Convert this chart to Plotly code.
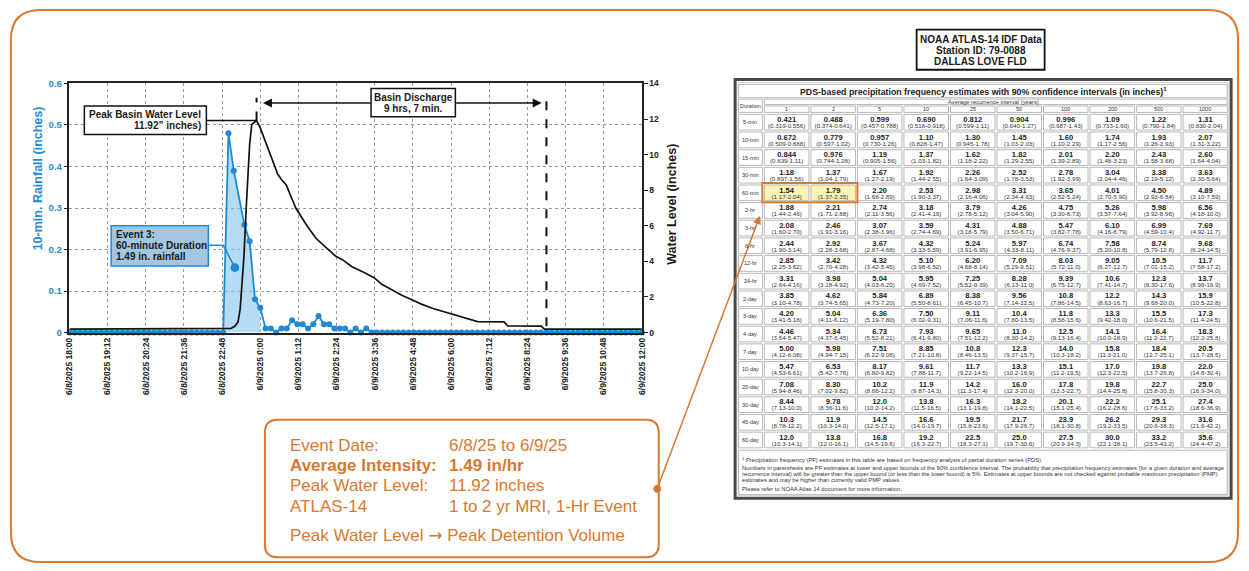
import pandas as pd
import plotly.graph_objects as go

W, H = 1249, 571
FONT = "Arial, 'Liberation Sans', sans-serif"
BLUE = "#1e8ad6"
ORANGE = "#d9782f"
INK = "#1a1a1a"
GRID = "#9a9a9a"

# ---------------- rainfall: 10-minute totals (inches) ----------------
RAIN_START = "2025-06-08 18:00"
RAIN_END = "2025-06-09 12:00"
RAIN_IN = [
    0, 0, 0, 0, 0, 0, 0, 0, 0, 0,
    0, 0, 0, 0, 0, 0, 0, 0, 0, 0,
    0, 0, 0, 0, 0, 0, 0, 0, 0, 0,
    0.48, 0.39, None, 0.26, 0.22, 0.08, 0.06, 0.01, 0.01, 0.0,
    0.01, 0.01, 0.03, 0.02, 0.02, 0.01, 0.02, 0.04, 0.02, 0.02,
    0.01, 0.01, 0.01, 0.0, 0.01, 0.0, 0.01, 0, 0, 0,
    0, 0, 0, 0, 0, 0, 0, 0, 0, 0,
    0, 0, 0, 0, 0, 0, 0, 0, 0, 0,
    0, 0, 0, 0, 0, 0, 0, 0, 0, 0,
    0, 0, 0, 0, 0, 0, 0, 0, 0, 0,
    0, 0, 0, 0, 0, 0, 0, 0, 0,
]
rain_t = pd.date_range(RAIN_START, RAIN_END, freq="10min")

EVENT_START = "2025-06-08 22:50"
EVENT_END = "2025-06-09 00:00"

# ---------------- basin water level (inches) ----------------
WL_TIME = [
    "2025-06-08 18:00", "2025-06-08 22:50", "2025-06-08 23:05", "2025-06-08 23:12",
    "2025-06-08 23:18", "2025-06-08 23:22", "2025-06-08 23:25", "2025-06-08 23:29",
    "2025-06-08 23:34", "2025-06-08 23:40", "2025-06-08 23:44", "2025-06-08 23:53",
    "2025-06-09 00:00", "2025-06-09 00:11", "2025-06-09 00:22", "2025-06-09 00:33",
    "2025-06-09 00:40", "2025-06-09 00:49", "2025-06-09 01:07", "2025-06-09 01:26",
    "2025-06-09 01:45", "2025-06-09 02:03", "2025-06-09 02:22", "2025-06-09 02:35",
    "2025-06-09 02:53", "2025-06-09 03:14", "2025-06-09 03:34", "2025-06-09 03:50",
    "2025-06-09 04:08", "2025-06-09 04:27", "2025-06-09 04:46", "2025-06-09 05:04",
    "2025-06-09 05:26", "2025-06-09 05:54", "2025-06-09 06:22", "2025-06-09 06:50",
    "2025-06-09 07:40", "2025-06-09 07:47", "2025-06-09 08:50", "2025-06-09 08:56",
    "2025-06-09 12:00",
]
WL_IN = [
    0.2, 0.2, 0.24, 0.35,
    0.6, 1.3, 2.4, 4.2,
    7.3, 10.6, 11.7, 11.92,
    11.5, 10.6, 9.7, 8.9,
    8.6, 8.3, 7.0, 6.1,
    5.3, 4.8, 4.3, 4.1,
    3.7, 3.4, 3.1, 2.7,
    2.4, 2.1, 1.85, 1.6,
    1.35, 1.1, 0.85, 0.62,
    0.6, 0.37, 0.36, 0.2,
    0.2,
]
PEAK_TIME = "2025-06-08 23:53"
PEAK_LEVEL = 11.92
DRAIN_END = "2025-06-09 09:00"

TICK_TIMES = [
    "2025-06-08 18:00", "2025-06-08 19:12", "2025-06-08 20:24", "2025-06-08 21:36",
    "2025-06-08 22:48", "2025-06-09 00:00", "2025-06-09 01:12", "2025-06-09 02:24",
    "2025-06-09 03:36", "2025-06-09 04:48", "2025-06-09 06:00", "2025-06-09 07:12",
    "2025-06-09 08:24", "2025-06-09 09:36", "2025-06-09 10:48", "2025-06-09 12:00",
]
TICK_LABELS = [
    "6/8/2025 18:00", "6/8/2025 19:12", "6/8/2025 20:24", "6/8/2025 21:36",
    "6/8/2025 22:48", "6/9/2025 0:00", "6/9/2025 1:12", "6/9/2025 2:24",
    "6/9/2025 3:36", "6/9/2025 4:48", "6/9/2025 6:00", "6/9/2025 7:12",
    "6/9/2025 8:24", "6/9/2025 9:36", "6/9/2025 10:48", "6/9/2025 12:00",
]

# ---------------- NOAA Atlas-14 PDS table ----------------
DURATIONS = ["5-min", "10-min", "15-min", "30-min", "60-min", "2-hr", "3-hr", "6-hr",
             "12-hr", "24-hr", "2-day", "3-day", "4-day", "7-day", "10-day", "20-day",
             "30-day", "45-day", "60-day"]
ARI_YEARS = ["1", "2", "5", "10", "25", "50", "100", "200", "500", "1000"]
PF_EST = [
    ["0.421", "0.488", "0.599", "0.690", "0.812", "0.904", "0.996", "1.09", "1.22", "1.31"],
    ["0.672", "0.779", "0.957", "1.10", "1.30", "1.45", "1.60", "1.74", "1.93", "2.07"],
    ["0.844", "0.976", "1.19", "1.37", "1.62", "1.82", "2.01", "2.20", "2.43", "2.60"],
    ["1.18", "1.37", "1.67", "1.92", "2.26", "2.52", "2.78", "3.04", "3.38", "3.63"],
    ["1.54", "1.79", "2.20", "2.53", "2.98", "3.31", "3.65", "4.01", "4.50", "4.89"],
    ["1.88", "2.21", "2.74", "3.18", "3.79", "4.26", "4.75", "5.26", "5.98", "6.56"],
    ["2.08", "2.46", "3.07", "3.59", "4.31", "4.88", "5.47", "6.10", "6.99", "7.69"],
    ["2.44", "2.92", "3.67", "4.32", "5.24", "5.97", "6.74", "7.58", "8.74", "9.68"],
    ["2.85", "3.42", "4.32", "5.10", "6.20", "7.09", "8.03", "9.05", "10.5", "11.7"],
    ["3.31", "3.98", "5.04", "5.95", "7.25", "8.28", "9.39", "10.6", "12.3", "13.7"],
    ["3.85", "4.62", "5.84", "6.89", "8.38", "9.56", "10.8", "12.2", "14.3", "15.9"],
    ["4.20", "5.04", "6.36", "7.50", "9.11", "10.4", "11.8", "13.3", "15.5", "17.3"],
    ["4.46", "5.34", "6.73", "7.93", "9.65", "11.0", "12.5", "14.1", "16.4", "18.3"],
    ["5.00", "5.98", "7.51", "8.85", "10.8", "12.3", "14.0", "15.8", "18.4", "20.5"],
    ["5.47", "6.53", "8.17", "9.61", "11.7", "13.3", "15.1", "17.0", "19.8", "22.0"],
    ["7.08", "8.30", "10.2", "11.9", "14.2", "16.0", "17.8", "19.8", "22.7", "25.0"],
    ["8.44", "9.78", "12.0", "13.8", "16.3", "18.2", "20.1", "22.2", "25.1", "27.4"],
    ["10.3", "11.9", "14.5", "16.6", "19.5", "21.7", "23.9", "26.2", "29.3", "31.6"],
    ["12.0", "13.8", "16.8", "19.2", "22.5", "25.0", "27.5", "30.0", "33.2", "35.6"],
]
PF_CI = [
    ["0.319-0.556", "0.374-0.641", "0.457-0.788", "0.518-0.918", "0.599-1.11", "0.640-1.27", "0.687-1.43", "0.733-1.60", "0.790-1.84", "0.830-2.04"],
    ["0.509-0.888", "0.597-1.02", "0.730-1.26", "0.828-1.47", "0.945-1.78", "1.03-2.03", "1.10-2.29", "1.17-2.56", "1.26-2.93", "1.31-3.22"],
    ["0.639-1.11", "0.744-1.28", "0.905-1.56", "1.03-1.82", "1.18-2.22", "1.29-2.55", "1.39-2.89", "1.48-3.23", "1.58-3.68", "1.64-4.04"],
    ["0.897-1.56", "1.04-1.79", "1.27-2.19", "1.44-2.55", "1.64-3.09", "1.78-3.53", "1.92-3.99", "2.04-4.46", "2.19-5.12", "2.30-5.64"],
    ["1.17-2.04", "1.37-2.35", "1.68-2.89", "1.90-3.37", "2.16-4.06", "2.34-4.63", "2.52-5.24", "2.70-5.90", "2.93-6.84", "3.10-7.59"],
    ["1.44-2.46", "1.71-2.88", "2.11-3.56", "2.41-4.19", "2.78-5.12", "3.04-5.90", "3.30-6.73", "3.57-7.64", "3.92-8.96", "4.18-10.0"],
    ["1.60-2.70", "1.91-3.16", "2.38-3.96", "2.74-4.69", "3.18-5.79", "3.50-6.71", "3.82-7.78", "4.16-8.79", "4.59-10.4", "4.92-11.7"],
    ["1.90-3.14", "2.28-3.68", "2.87-4.68", "3.33-5.59", "3.91-6.95", "4.33-8.11", "4.76-9.37", "5.20-10.8", "5.79-12.8", "6.24-14.5"],
    ["2.25-3.62", "2.70-4.28", "3.42-5.45", "3.98-6.52", "4.68-8.14", "5.29-9.51", "5.72-11.0", "6.27-12.7", "7.01-15.2", "7.58-17.2"],
    ["2.64-4.16", "3.18-4.92", "4.03-6.20", "4.69-7.52", "5.52-9.39", "6.13-11.0", "6.75-12.7", "7.41-14.7", "8.30-17.6", "8.99-19.9"],
    ["3.10-4.78", "3.74-5.65", "4.73-7.20", "5.50-8.61", "6.45-10.7", "7.14-12.5", "7.86-14.5", "8.63-16.7", "9.68-20.0", "10.5-22.8"],
    ["3.41-5.18", "4.11-6.12", "5.19-7.80", "6.02-9.31", "7.06-11.6", "7.80-13.5", "8.58-15.6", "9.42-18.0", "10.6-21.5", "11.4-24.5"],
    ["3.64-5.47", "4.37-6.45", "5.52-8.21", "6.41-9.80", "7.51-12.2", "8.30-14.2", "9.13-16.4", "10.0-18.9", "11.2-22.7", "12.2-25.8"],
    ["4.12-6.08", "4.94-7.15", "6.22-9.08", "7.21-10.8", "8.46-13.5", "9.37-15.7", "10.3-18.2", "11.3-21.0", "12.7-25.1", "13.7-28.5"],
    ["4.53-6.61", "5.42-7.76", "6.80-9.82", "7.88-11.7", "9.22-14.5", "10.2-16.9", "11.2-19.5", "12.3-22.5", "13.7-26.8", "14.8-30.4"],
    ["5.94-8.46", "7.02-9.82", "8.66-12.2", "9.87-14.3", "11.3-17.4", "12.3-20.0", "13.3-22.7", "14.4-25.8", "15.8-30.3", "16.9-34.0"],
    ["7.13-10.0", "8.36-11.6", "10.2-14.2", "11.5-16.5", "13.1-19.8", "14.1-22.5", "15.1-25.4", "16.2-28.6", "17.6-33.2", "18.6-36.9"],
    ["8.78-12.2", "10.3-14.0", "12.5-17.1", "14.0-19.7", "15.8-23.6", "17.9-26.7", "18.1-30.8", "19.2-33.5", "20.6-38.3", "21.6-42.2"],
    ["10.3-14.1", "12.0-16.1", "14.5-19.6", "16.3-22.7", "18.3-27.1", "19.7-30.6", "20.9-34.3", "22.1-38.1", "23.5-43.2", "24.4-47.2"],
]
HIGHLIGHT_DURATION = "60-min"
HIGHLIGHT_YEARS = ["1", "2"]
FOOTNOTES = [
    "<sup>1</sup> Precipitation frequency (PF) estimates in this table are based on frequency analysis of partial duration series (PDS).",
    "Numbers in parenthesis are PF estimates at lower and upper bounds of the 90% confidence interval. The probability that precipitation frequency estimates (for a given duration and average",
    "recurrence interval) will be greater than the upper bound (or less than the lower bound) is 5%. Estimates at upper bounds are not checked against probable maximum precipitation (PMP)",
    "estimates and may be higher than currently valid PMP values.",
    "Please refer to NOAA Atlas 14 document for more information.",
]

# ---------------- derived values ----------------
event_pts = [(t, v) for t, v in zip(rain_t, RAIN_IN)
             if v is not None and pd.Timestamp(EVENT_START) <= t <= pd.Timestamp(EVENT_END)]
event_total = sum(v for _, v in event_pts)

# ---------------- page layout (pixels) ----------------
PL, PR, PT, PB = 65, 642, 79, 333          # chart plot area
TB_X0, TB_X1, TB_Y0, TB_Y1 = 736, 1236, 75, 502
DUR_X0, DUR_X1 = 739.5, 763.5
COL_X0, COL_W = 765.0, 46.9
ROW_Y0, ROW_H = 110.0, 18.0


def b(s):
    return f"<b>{s}</b>"


fig = go.Figure()

# event rainfall area
fig.add_trace(go.Scatter(
    x=[t for t, _ in event_pts], y=[v for _, v in event_pts],
    mode="lines", line=dict(width=0), fill="tozeroy",
    fillcolor="rgba(120,190,236,0.55)", hoverinfo="skip"))

# 10-minute rainfall
fig.add_trace(go.Scatter(
    x=rain_t, y=RAIN_IN, mode="lines+markers", connectgaps=True,
    line=dict(color=BLUE, width=1.8), marker=dict(color=BLUE, size=6),
    cliponaxis=False, hoverinfo="x+y"))

# basin water level
fig.add_trace(go.Scatter(
    x=pd.to_datetime(WL_TIME), y=WL_IN, yaxis="y2", mode="lines",
    line=dict(color="#111111", width=1.7), hoverinfo="x+y"))

shapes = []
annos = []


def note(x, y, text, size, color=INK, xanchor="center", angle=0):
    annos.append(dict(x=x, y=y, xref="x3", yref="y3", text=text, showarrow=False,
                      font=dict(family=FONT, size=size, color=color),
                      xanchor=xanchor, yanchor="middle", textangle=angle))


def rect(x0, y0, x1, y1, line="#000", width=1, fill="rgba(0,0,0,0)", layer="above"):
    shapes.append(dict(type="rect", xref="x3", yref="y3", x0=x0, y0=y0, x1=x1, y1=y1,
                       line=dict(color=line, width=width), fillcolor=fill, layer=layer))


def rounded(x0, y0, x1, y1, r, color, width):
    p = (f"M {x0 + r},{y0} L {x1 - r},{y0} Q {x1},{y0} {x1},{y0 + r} "
         f"L {x1},{y1 - r} Q {x1},{y1} {x1 - r},{y1} L {x0 + r},{y1} "
         f"Q {x0},{y1} {x0},{y1 - r} L {x0},{y0 + r} Q {x0},{y0} {x0 + r},{y0} Z")
    shapes.append(dict(type="path", xref="x3", yref="y3", path=p,
                       line=dict(color=color, width=width), fillcolor="rgba(0,0,0,0)",
                       layer="below"))


# outer frame
rounded(6, 4, 1243, 567, 30, ORANGE, 2)

# ---------------- chart callouts ----------------
# peak water level box + leader
rect(80, 102, 203, 131, line="#111", width=1.5, fill="white")
note(200, 110.7, b("Peak Basin Water Level"), 10, xanchor="right")
note(200, 122.3, b(f"{PEAK_LEVEL:.2f}\u201d inches)"), 10, xanchor="right")
shapes.append(dict(type="line", xref="x", yref="y2", x0="2025-06-08 22:18", x1=PEAK_TIME,
                   y0=PEAK_LEVEL, y1=PEAK_LEVEL, line=dict(color="#111", width=1.5)))

# discharge duration markers
shapes.append(dict(type="line", xref="x", yref="y2", x0=PEAK_TIME, x1=PEAK_TIME,
                   y0=PEAK_LEVEL, y1=13.2, line=dict(color="#111", width=2, dash="dash")))
shapes.append(dict(type="line", xref="x", yref="y2", x0=DRAIN_END, x1=DRAIN_END,
                   y0=0.36, y1=13.2, line=dict(color="#111", width=2, dash="dash")))
rect(369, 84, 454, 113, line="#111", width=1.5, fill="white")
note(411.5, 93.3, b("Basin Discharge"), 10)
note(411.5, 105.0, b("9 hrs, 7 min."), 10)
annos.append(dict(x="2025-06-09 00:05", y=12.9, xref="x", yref="y2", ax=109, ay=0,
                  showarrow=True, arrowhead=2, arrowsize=1.2, arrowwidth=1.5,
                  arrowcolor="#111", text=""))
annos.append(dict(x="2025-06-09 08:51", y=12.9, xref="x", yref="y2", ax=-87, ay=0,
                  showarrow=True, arrowhead=2, arrowsize=1.2, arrowwidth=1.5,
                  arrowcolor="#111", text=""))

# event box + leader
rect(107, 224, 205, 265, line=BLUE, width=1.5, fill="#a2c6e0")
note(110, 233.3, b("Event 3:"), 10, xanchor="left")
note(110, 244.3, b("60-minute Duration"), 10, xanchor="left")
note(110, 255.3, b(f"{event_total:.2f} in. rainfall"), 10, xanchor="left")
shapes.append(dict(type="path", xref="x3", yref="y3", path="M 205,244 L 220,244 L 231.7,266.7",
                   line=dict(color=BLUE, width=1.5)))
shapes.append(dict(type="circle", xref="x3", yref="y3", x0=227.7, x1=235.7, y0=262.7, y1=270.7,
                   line=dict(color=BLUE, width=1), fillcolor=BLUE))

# axis titles
note(33, 176, b("10-min. Rainfall (inches)"), 12.5, color=BLUE, angle=-90)
note(672, 202, b("Water Level (inches)"), 12.5, angle=-90)

# ---------------- summary box ----------------
rounded(262, 422, 659, 562, 13, ORANGE, 2)
INFO = [
    ("Event Date:", "6/8/25 to 6/9/25", False, 448.3),
    ("Average Intensity:", f"{event_total:.2f} in/hr", True, 468.6),
    ("Peak Water Level:", f"{PEAK_LEVEL:.2f} inches", False, 489.2),
    ("ATLAS-14", "1 to 2 yr MRI, 1-Hr Event", False, 510.6),
]
for lab, val, bold, yy in INFO:
    note(285, yy, b(lab) if bold else lab, 17, color=ORANGE, xanchor="left")
    note(446, yy, b(val) if bold else val, 17, color=ORANGE, xanchor="left")
note(285, 539,
     "Peak Water Level <span style=\"font-family:'DejaVu Sans'\">\u2192</span> Peak Detention Volume",
     17, color=ORANGE, xanchor="left")
shapes.append(dict(type="circle", xref="x3", yref="y3", x0=654, x1=661, y0=488.8, y1=495.8,
                   line=dict(color=ORANGE, width=1), fillcolor=ORANGE))
annos.append(dict(x=761, y=214, xref="x3", yref="y3", ax=657.5, ay=492.3, axref="x3", ayref="y3",
                  showarrow=True, arrowhead=2, arrowsize=1.1, arrowwidth=1.5,
                  arrowcolor=ORANGE, text=""))

# ---------------- IDF table ----------------
rect(919, 24, 1048, 65, line="#111", width=1.8, fill="white")
note(983.5, 34.0, b("NOAA ATLAS-14 IDF Data"), 10)
note(983.5, 45.3, b("Station ID: 79-0088"), 10)
note(983.5, 56.7, b("DALLAS LOVE FLD"), 10)

CELL = "#b9b9b9"
rect(TB_X0, TB_Y0, TB_X1, TB_Y1, line="#4a4a4a", width=3, fill="white", layer="below")
rect(TB_X0 + 3, TB_Y0 + 3, TB_X1 - 3, TB_Y1 - 3, line="#d0d0d0", width=1, layer="below")
rect(DUR_X0, 80, TB_X1 - 4, 93.5, line=CELL, layer="below")
note((TB_X0 + TB_X1) / 2, 86.7,
     b("PDS-based precipitation frequency estimates with 90% confidence intervals (in inches)<sup>1</sup>"),
     8.8, color="#222")
rect(DUR_X0, 95, DUR_X1, 108.5, line=CELL, layer="below")
note((DUR_X0 + DUR_X1) / 2, 101.8, "Duration", 5.5, color="#333")
rect(COL_X0 + 0.5, 95, TB_X1 - 4, 100.5, line=CELL, layer="below")
note(996, 97.8, "Average recurrence interval (years)", 5.8, color="#333")

col_cx = [COL_X0 + (j + 0.5) * COL_W - 0.5 for j in range(len(ARI_YEARS))]
for j, yr in enumerate(ARI_YEARS):
    rect(COL_X0 + j * COL_W + 0.5, 102, COL_X0 + (j + 1) * COL_W - 1.5, 108.5, line=CELL, layer="below")
    note(col_cx[j], 105.3, yr, 5.5, color="#333")

hi_row = DURATIONS.index(HIGHLIGHT_DURATION)
hi_cols = [ARI_YEARS.index(y) for y in HIGHLIGHT_YEARS]
vx, vy, vt, cx, cy, ct = [], [], [], [], [], []
for i, dur in enumerate(DURATIONS):
    top = ROW_Y0 + i * ROW_H
    rect(DUR_X0, top + 0.5, DUR_X1, top + ROW_H - 1.5, line=CELL, layer="below")
    note((DUR_X0 + DUR_X1) / 2, top + 8.5, dur, 5.5, color="#333")
    for j in range(len(ARI_YEARS)):
        fill = "#faf3b2" if (i == hi_row and j in hi_cols) else "white"
        rect(COL_X0 + j * COL_W + 0.5, top + 0.5, COL_X0 + (j + 1) * COL_W - 1.5,
             top + ROW_H - 1.5, line=CELL, fill=fill, layer="below")
        vx.append(col_cx[j]); vy.append(top + 6.3); vt.append(PF_EST[i][j])
        cx.append(col_cx[j]); cy.append(top + 12.8); ct.append(f"({PF_CI[i][j]})")

# highlight frame around the matching cells
hx0 = COL_X0 + min(hi_cols) * COL_W - 1.5
hx1 = COL_X0 + (max(hi_cols) + 1) * COL_W + 0.5
hy0 = ROW_Y0 + hi_row * ROW_H - 1.5
shapes.append(dict(type="rect", xref="x3", yref="y3", x0=hx0, x1=hx1, y0=hy0, y1=hy0 + ROW_H + 1.5,
                   line=dict(color=ORANGE, width=2), fillcolor="rgba(0,0,0,0)", layer="above"))

fig.add_trace(go.Scatter(x=vx, y=vy, text=[b(t) for t in vt], mode="text", xaxis="x3", yaxis="y3",
                         textfont=dict(family=FONT, size=7.6, color="#1c1c1c"),
                         cliponaxis=False, hoverinfo="skip"))
fig.add_trace(go.Scatter(x=cx, y=cy, text=ct, mode="text", xaxis="x3", yaxis="y3",
                         textfont=dict(family=FONT, size=6.2, color="#333"),
                         cliponaxis=False, hoverinfo="skip"))

foot_top = ROW_Y0 + len(DURATIONS) * ROW_H + 1
rect(DUR_X0, foot_top, TB_X1 - 4, TB_Y1 - 4, line=CELL, layer="below")
for line_txt, yy in zip(FOOTNOTES, [462.5, 471.0, 477.2, 483.4, 492.5]):
    note(741, yy, line_txt, 5.8, color="#333", xanchor="left")

# ---------------- layout ----------------
fig.update_layout(
    width=W, height=H, autosize=False,
    margin=dict(l=0, r=0, t=0, b=0, pad=0),
    paper_bgcolor="white", plot_bgcolor="rgba(0,0,0,0)",
    showlegend=False,
    font=dict(family=FONT),
    shapes=shapes, annotations=annos,
    xaxis=dict(domain=[PL / W, PR / W], anchor="y", type="date",
               range=[RAIN_START, RAIN_END], tickmode="array",
               tickvals=TICK_TIMES, ticktext=TICK_LABELS, tickangle=-90,
               tickfont=dict(family=FONT, size=8.5, color="#222", weight="bold"),
               showgrid=True, gridcolor=GRID, griddash="dot", gridwidth=1,
               showline=True, linecolor="#222", linewidth=1.5, mirror=True,
               ticks="", zeroline=False, fixedrange=True),
    yaxis=dict(domain=[1 - PB / H, 1 - PT / H], anchor="x", range=[0, 0.6], dtick=0.1,
               tickfont=dict(family=FONT, size=9.5, color=BLUE, weight="bold"),
               showgrid=True, gridcolor=GRID, griddash="dot", gridwidth=1,
               showline=True, linecolor="#222", linewidth=1.5,
               ticks="outside", ticklen=4, tickcolor="#222", zeroline=False, fixedrange=True),
    yaxis2=dict(overlaying="y", side="right", anchor="x", range=[0, 14], dtick=2,
                tickfont=dict(family=FONT, size=8.5, color="#222", weight="bold"),
                showgrid=False, showline=True, linecolor="#222", linewidth=1.5,
                ticks="outside", ticklen=4, tickcolor="#222", zeroline=False, fixedrange=True),
    xaxis3=dict(domain=[0, 1], anchor="y3", range=[0, W], visible=False, fixedrange=True),
    yaxis3=dict(domain=[0, 1], anchor="x3", range=[H, 0], visible=False, fixedrange=True),
)

fig.write_html("out.html")
